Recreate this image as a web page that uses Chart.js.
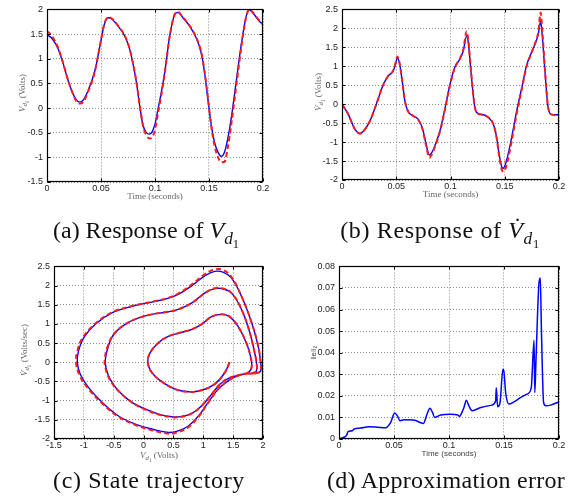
<!DOCTYPE html>
<html>
<head>
<meta charset="utf-8">
<script src="https://cdn.jsdelivr.net/npm/chart.js@4/dist/chart.umd.min.js"></script>
<style>
  html, body { margin:0; padding:0; background:#fff; }
  body { width:571px; height:502px; position:relative; overflow:hidden; }
  canvas { position:absolute; }
  .yt { position:absolute; transform:translate(-50%,-50%) rotate(-90deg); white-space:nowrap;
        font-family:'Liberation Serif', serif; font-size:9px; color:#666; line-height:10px; }
  .xt { position:absolute; transform:translate(-50%,-50%); white-space:nowrap;
        font-family:'Liberation Serif', serif; font-size:9px; color:#666; line-height:10px; }
  .yt sub, .xt sub { font-size:75%; vertical-align:-0.3em; line-height:0; }
  .cap { position:absolute; width:320px; text-align:center; white-space:nowrap;
         font-family:'Liberation Serif', serif; font-size:24px; color:#111; line-height:28px; }
  .cap sub { font-size:72%; vertical-align:-0.32em; line-height:0; }
</style>
</head>
<body>
<canvas id="ca"></canvas>
<canvas id="cb"></canvas>
<canvas id="cc"></canvas>
<canvas id="cd"></canvas>

<div class="yt" style="left:22px;top:93px"><i>V</i><sub><i>d</i><sub>1</sub></sub> (Volts)</div>
<div class="yt" style="left:318px;top:92px"><i>V̇</i><sub><i>d</i><sub>1</sub></sub> (Volts)</div>
<div class="yt" style="left:24px;top:350px"><i>V̇</i><sub><i>d</i><sub>1</sub></sub> (Volts/sec)</div>
<div class="xt" style="left:159px;top:455px"><i>V</i><sub><i>d</i><sub>1</sub></sub> (Volts)</div>

<div class="cap" data-w="186" style="left:-14px;top:216px"><span>(a) Response of <i>V</i><sub><i>d</i><sub>1</sub></sub></span></div>
<div class="cap" data-w="200" style="left:280px;top:216px"><span>(b) Response of <i>V̇</i><sub><i>d</i><sub>1</sub></sub></span></div>
<div class="cap" data-w="192" style="left:-11px;top:466px"><span>(c) State trajectory</span></div>
<div class="cap" data-w="238" style="left:286px;top:466px"><span>(d) Approximation error</span></div>

<script>
// ---------------- data ----------------
// (a) response of V_d1
const tA = [0, 0.0043, 0.0105, 0.0151, 0.0197, 0.0243, 0.0274, 0.0305, 0.0335, 0.038, 0.0443, 0.049, 0.053, 0.0566, 0.0597, 0.0658, 0.072, 0.0766, 0.0797, 0.0828, 0.0858, 0.0889, 0.092, 0.095, 0.0997, 0.1028, 0.1059, 0.109, 0.1136, 0.1182, 0.1213, 0.1259, 0.1321, 0.1382, 0.1428, 0.1459, 0.149, 0.1521, 0.1551, 0.1582, 0.1613, 0.1644, 0.1674, 0.1705, 0.1751, 0.1797, 0.1844, 0.1874, 0.192, 0.1967, 0.2];
const vA_blue = [1.49, 1.42, 1.19, 0.89, 0.55, 0.28, 0.16, 0.12, 0.16, 0.35, 0.75, 1.26, 1.69, 1.83, 1.81, 1.66, 1.46, 1.19, 0.89, 0.52, 0.05, -0.35, -0.5, -0.53, -0.35, -0.02, 0.32, 0.72, 1.46, 1.89, 1.94, 1.83, 1.66, 1.42, 1.12, 0.72, 0.18, -0.35, -0.69, -0.89, -0.98, -0.89, -0.62, -0.22, 0.52, 1.26, 1.86, 1.99, 1.89, 1.76, 1.69];
const vA_red  = [1.56, 1.47, 1.21, 0.9, 0.55, 0.27, 0.13, 0.09, 0.12, 0.33, 0.74, 1.26, 1.7, 1.84, 1.82, 1.67, 1.47, 1.2, 0.9, 0.53, 0.07, -0.36, -0.55, -0.62, -0.47, -0.1, 0.27, 0.7, 1.45, 1.9, 1.95, 1.84, 1.67, 1.43, 1.13, 0.74, 0.2, -0.37, -0.76, -0.99, -1.1, -1.09, -0.8, -0.35, 0.42, 1.2, 1.85, 2.0, 1.9, 1.77, 1.7];

// (b) response of dV_d1
const tB = [0, 0.0058, 0.0119, 0.0166, 0.0212, 0.0258, 0.032, 0.038, 0.0427, 0.0467, 0.0488, 0.051, 0.0528, 0.055, 0.058, 0.0611, 0.0657, 0.0703, 0.0744, 0.0774, 0.0805, 0.0827, 0.0857, 0.0903, 0.0949, 0.0995, 0.1041, 0.1088, 0.1118, 0.1149, 0.1164, 0.1189, 0.122, 0.1241, 0.1302, 0.1349, 0.1395, 0.1425, 0.1447, 0.1472, 0.1487, 0.1518, 0.1564, 0.161, 0.1656, 0.1702, 0.1748, 0.1785, 0.1809, 0.1831, 0.1846, 0.1871, 0.1896, 0.1926, 0.1979, 0.2];
const vB_blue = [0, -0.27, -0.66, -0.77, -0.66, -0.44, 0.03, 0.51, 0.75, 0.85, 1.0, 1.22, 1.11, 0.72, 0.08, -0.2, -0.31, -0.4, -0.66, -1.04, -1.34, -1.28, -1.09, -0.7, -0.12, 0.52, 0.98, 1.2, 1.41, 1.8, 1.63, 0.85, -0.01, -0.22, -0.28, -0.35, -0.53, -0.87, -1.3, -1.65, -1.69, -1.47, -0.87, -0.18, 0.42, 1.03, 1.37, 1.63, 1.84, 2.19, 1.8, 0.85, -0.01, -0.27, -0.28, -0.28];
const vB_red  = [0, -0.27, -0.66, -0.78, -0.66, -0.44, 0.03, 0.51, 0.75, 0.86, 1.02, 1.26, 1.12, 0.72, 0.08, -0.2, -0.31, -0.41, -0.68, -1.08, -1.41, -1.33, -1.12, -0.72, -0.14, 0.5, 0.97, 1.21, 1.44, 1.92, 1.7, 0.88, 0.0, -0.22, -0.28, -0.35, -0.53, -0.89, -1.34, -1.72, -1.78, -1.6, -0.97, -0.25, 0.38, 1.0, 1.37, 1.65, 1.9, 2.42, 1.95, 0.9, 0.0, -0.27, -0.29, -0.29];

// (c) state trajectory (V_d1, dV_d1)
const cV_blue  = [1.44, 1.36, 1.19, 0.97, 0.75, 0.53, 0.31, 0.14, 0.07, 0.11, 0.25, 0.42, 0.61, 0.81, 0.97, 1.14, 1.31, 1.44, 1.58, 1.72, 1.79, 1.81,
  1.75, 1.58, 1.42, 1.28, 1.14, 0.97, 0.81, 0.64, 0.47, 0.25, 0.03, -0.19, -0.42, -0.56, -0.63, -0.64, -0.59, -0.5, -0.31, -0.08, 0.14, 0.39, 0.58, 0.81, 1.03, 1.19, 1.31, 1.47, 1.64, 1.78, 1.86, 1.89, 1.89,
  1.81, 1.72, 1.58, 1.42, 1.25, 1.08, 0.92, 0.75, 0.58, 0.42, 0.14, -0.14, -0.42, -0.69, -0.92, -1.06, -1.11, -1.09, -1.0, -0.81, -0.53, -0.19, 0.14, 0.39, 0.58, 0.81, 1.03, 1.19, 1.33, 1.47, 1.64, 1.81, 1.92, 1.96, 1.96, 1.86, 1.72];
const cVd_blue = [0, -0.27, -0.57, -0.73, -0.77, -0.70, -0.51, -0.27, 0, 0.25, 0.51, 0.68, 0.77, 0.86, 0.99, 1.19, 1.25, 1.19, 0.94, 0.51, 0.16, -0.12,
  -0.27, -0.34, -0.42, -0.57, -0.83, -1.14, -1.33, -1.41, -1.42, -1.35, -1.22, -1.05, -0.75, -0.44, -0.14, 0.08, 0.42, 0.73, 0.99, 1.16, 1.25, 1.31, 1.38, 1.55, 1.81, 1.92, 1.92, 1.81, 1.38, 0.77, 0.25, 0, -0.23,
  -0.29, -0.29, -0.35, -0.48, -0.70, -1.05, -1.40, -1.66, -1.79, -1.83, -1.74, -1.61, -1.40, -1.05, -0.66, -0.31, 0, 0.29, 0.64, 0.99, 1.29, 1.46, 1.57, 1.66, 1.77, 2.0, 2.26, 2.37, 2.35, 2.2, 1.72, 1.03, 0.42, 0, -0.23, -0.29, -0.29];
const cV_red   = [1.44, 1.36, 1.19, 0.97, 0.75, 0.53, 0.31, 0.14, 0.07, 0.11, 0.25, 0.42, 0.61, 0.81, 0.97, 1.14, 1.31, 1.44, 1.58, 1.72, 1.79, 1.81,
  1.75, 1.58, 1.42, 1.28, 1.14, 0.97, 0.81, 0.64, 0.47, 0.25, 0.03, -0.19, -0.42, -0.57, -0.64, -0.65, -0.6, -0.5, -0.31, -0.08, 0.14, 0.39, 0.58, 0.81, 1.03, 1.19, 1.31, 1.47, 1.64, 1.78, 1.86, 1.89, 1.89,
  1.81, 1.72, 1.58, 1.42, 1.25, 1.08, 0.92, 0.75, 0.58, 0.42, 0.14, -0.14, -0.43, -0.7, -0.94, -1.08, -1.13, -1.11, -1.02, -0.82, -0.53, -0.19, 0.14, 0.39, 0.58, 0.81, 1.03, 1.19, 1.33, 1.47, 1.64, 1.81, 1.92, 1.96, 1.96, 1.86, 1.72];
const cVd_red  = [0, -0.27, -0.57, -0.73, -0.77, -0.70, -0.51, -0.27, 0, 0.25, 0.51, 0.68, 0.77, 0.86, 0.99, 1.19, 1.25, 1.19, 0.94, 0.51, 0.16, -0.12,
  -0.27, -0.34, -0.42, -0.57, -0.83, -1.14, -1.33, -1.42, -1.43, -1.36, -1.23, -1.05, -0.75, -0.44, -0.14, 0.08, 0.42, 0.73, 0.99, 1.16, 1.25, 1.31, 1.38, 1.55, 1.81, 1.93, 1.93, 1.81, 1.38, 0.77, 0.25, 0, -0.23,
  -0.29, -0.29, -0.35, -0.48, -0.70, -1.06, -1.42, -1.69, -1.82, -1.86, -1.77, -1.63, -1.41, -1.06, -0.66, -0.31, 0, 0.29, 0.64, 0.99, 1.3, 1.47, 1.58, 1.67, 1.79, 2.03, 2.3, 2.42, 2.41, 2.23, 1.72, 1.03, 0.42, 0, -0.23, -0.29, -0.29];

// (d) approximation error
const tD = [0, 0.0045, 0.007, 0.0082, 0.012, 0.0136, 0.0197, 0.027, 0.035, 0.0424, 0.047, 0.0506, 0.053, 0.0555, 0.059, 0.068, 0.0767, 0.080, 0.0827, 0.085, 0.087, 0.0924, 0.1015, 0.108, 0.1097, 0.111, 0.1136, 0.1158, 0.118, 0.121, 0.129, 0.139, 0.1424, 0.143, 0.1442, 0.1464, 0.149, 0.15, 0.1515, 0.1545, 0.159, 0.165, 0.171, 0.1748, 0.1773, 0.178, 0.179, 0.1818, 0.183, 0.184, 0.186, 0.188, 0.1924, 0.2];
const eD = [0, 0.0008, 0.0018, 0.0034, 0.0038, 0.0046, 0.0051, 0.0057, 0.0055, 0.0052, 0.0077, 0.012, 0.0108, 0.0085, 0.0089, 0.0088, 0.0072, 0.0115, 0.0143, 0.0123, 0.01, 0.0111, 0.0115, 0.0111, 0.0105, 0.0115, 0.0146, 0.018, 0.0154, 0.0131, 0.0146, 0.0157, 0.0177, 0.0238, 0.015, 0.0169, 0.0323, 0.031, 0.0215, 0.0162, 0.0172, 0.0192, 0.0208, 0.0238, 0.0458, 0.0215, 0.0354, 0.0723, 0.0746, 0.0508, 0.0169, 0.0154, 0.0157, 0.0172];

// ticks
const timeTicks = [0, 0.05, 0.1, 0.15, 0.2];
const timeLabels = ['0', '0.05', '0.1', '0.15', '0.2'];
const yTicksA = [-1.5, -1, -0.5, 0, 0.5, 1, 1.5, 2];
const yLabelsA = ['-1.5', '-1', '-0.5', '0', '0.5', '1', '1.5', '2'];
const yTicksB = [-2, -1.5, -1, -0.5, 0, 0.5, 1, 1.5, 2, 2.5];
const yLabelsB = ['-2', '-1.5', '-1', '-0.5', '0', '0.5', '1', '1.5', '2', '2.5'];
const xTicksC = [-1.5, -1, -0.5, 0, 0.5, 1, 1.5, 2];
const xLabelsC = ['-1.5', '-1', '-0.5', '0', '0.5', '1', '1.5', '2'];
const yTicksC = yTicksB;
const yLabelsC = yLabelsB;
const yTicksD = [0, 0.01, 0.02, 0.03, 0.04, 0.05, 0.06, 0.07, 0.08];
const yLabelsD = ['0', '0.01', '0.02', '0.03', '0.04', '0.05', '0.06', '0.07', '0.08'];

// ---------------- drawing ----------------
const pts = (xs, ys) => xs.map((x, i) => ({x, y: ys[i]}));
const TICKFONT = {family: "'Liberation Sans', Arial, sans-serif", size: 9};
const TICKCOLOR = '#222';

const boxPlugin = {
  id: 'matlabBox',
  afterDraw(chart) {
    const {ctx, chartArea: a} = chart;
    const xs = chart.scales.x, ys = chart.scales.y;
    const L = Math.round(a.left) + 0.5, R = Math.round(a.right) - 0.5;
    const T = Math.round(a.top) + 0.5, B = Math.round(a.bottom) - 0.5;
    ctx.save();
    ctx.strokeStyle = '#000';
    ctx.lineWidth = 1;
    ctx.beginPath();
    xs.ticks.forEach(t => {
      const p = Math.round(xs.getPixelForValue(t.value)) + 0.5;
      ctx.moveTo(p, B); ctx.lineTo(p, B - 3);
      ctx.moveTo(p, T); ctx.lineTo(p, T + 3);
    });
    ys.ticks.forEach(t => {
      const p = Math.round(ys.getPixelForValue(t.value)) + 0.5;
      ctx.moveTo(L, p); ctx.lineTo(L + 3, p);
      ctx.moveTo(R, p); ctx.lineTo(R - 3, p);
    });
    ctx.stroke();
    ctx.lineWidth = 1.2;
    ctx.strokeRect(L, T, R - L, B - T);
    ctx.restore();
  }
};

function panel(id, g, datasets, sx, sy) {
  const c = document.getElementById(id);
  const padL = 2, padR = 10, padB = 2, padT = g.padT;
  const left = g.L - g.yW - padL, top = g.T - padT;
  const w = (g.R - g.L) + g.yW + padL + padR;
  const h = (g.B - g.T) + g.xH + padT + padB;
  c.width = w; c.height = h;
  c.style.left = left + 'px'; c.style.top = top + 'px';
  c.style.width = w + 'px'; c.style.height = h + 'px';
  const axis = (s, isX) => ({
    type: 'linear', min: s.min, max: s.max,
    afterFit: sc => { if (isX) sc.height = g.xH; else sc.width = g.yW; },
    afterBuildTicks: sc => { sc.ticks = s.ticks.map(v => ({value: v})); },
    ticks: { callback: (v, i) => s.labels[i], font: TICKFONT, color: TICKCOLOR,
             padding: isX ? 1 : 4, maxRotation: 0, autoSkip: false },
    grid: { color: '#8c8c8c', lineWidth: 1, drawTicks: false },
    border: { display: false, dash: [1, 2] },
    title: s.title ? s.title : { display: false }
  });
  return new Chart(c, {
    type: 'scatter',
    data: { datasets },
    options: {
      responsive: false, animation: false, maintainAspectRatio: false,
      layout: { padding: { left: padL, right: padR, top: padT, bottom: padB } },
      plugins: { legend: { display: false }, tooltip: { enabled: false } },
      elements: { point: { radius: 0, hoverRadius: 0 } },
      scales: { x: axis(sx, true), y: axis(sy, false) }
    },
    plugins: [boxPlugin]
  });
}

const red = (data, mono) => ({ data, showLine: true, borderColor: '#ff1a1a', borderWidth: 2,
  borderDash: [5, 3], pointRadius: 0, fill: false,
  ...(mono ? { cubicInterpolationMode: 'monotone' } : { tension: 0.4 }) });
const blue = (data, mono, bw) => ({ data, showLine: true, borderColor: '#0000ff', borderWidth: bw || 1.4,
  pointRadius: 0, fill: false,
  ...(mono ? { cubicInterpolationMode: 'monotone' } : { tension: 0.4 }) });

const serifTitle = (text, pb) => ({ display: true, text, color: '#666',
  font: { family: "'Liberation Serif', serif", size: 9 }, padding: { top: 0, bottom: pb } });

// (a)
panel('ca', { L: 47, T: 8, R: 263, B: 182, yW: 40, xH: 24, padT: 8 },
  [red(pts(tA, vA_red), true), blue(pts(tA, vA_blue), true)],
  { min: 0, max: 0.2, ticks: timeTicks, labels: timeLabels, title: serifTitle('Time (seconds)', 3.6) },
  { min: -1.5, max: 2, ticks: yTicksA, labels: yLabelsA });

// (b)
panel('cb', { L: 342, T: 6, R: 559, B: 180, yW: 40, xH: 24, padT: 6 },
  [red(pts(tB, vB_red), true), blue(pts(tB, vB_blue), true)],
  { min: 0, max: 0.2, ticks: timeTicks, labels: timeLabels, title: serifTitle('Time (seconds)', 3.6) },
  { min: -2, max: 2.5, ticks: yTicksB, labels: yLabelsB });

// (c)
panel('cc', { L: 54, T: 265, R: 263, B: 439, yW: 40, xH: 24, padT: 8 },
  [red(pts(cV_red, cVd_red), false), blue(pts(cV_blue, cVd_blue), false)],
  { min: -1.5, max: 2, ticks: xTicksC, labels: xLabelsC },
  { min: -2, max: 2.5, ticks: yTicksC, labels: yLabelsC });

// (d)
const sansTitle = (text, pad) => ({ display: true, text, color: '#444',
  font: { family: "'Liberation Sans', Arial, sans-serif", size: 8 }, padding: pad });
panel('cd', { L: 339, T: 265, R: 559, B: 439, yW: 40, xH: 24, padT: 8 },
  [blue(pts(tD, eD), true, 1.5)],
  { min: 0, max: 0.2, ticks: timeTicks, labels: timeLabels, title: sansTitle('Time (seconds)', { top: 0, bottom: 4.2 }) },
  { min: 0, max: 0.08, ticks: yTicksD, labels: yLabelsD, title: sansTitle('\u2016e\u2016\u2082', { top: 10.2, bottom: 0 }) });

// fit caption widths to the reference
document.querySelectorAll('.cap').forEach(el => {
  const span = el.firstElementChild;
  const target = +el.dataset.w;
  const wNow = span.getBoundingClientRect().width;
  const n = span.textContent.length;
  span.style.letterSpacing = ((target - wNow) / n).toFixed(2) + 'px';
});
</script>
</body>
</html>
